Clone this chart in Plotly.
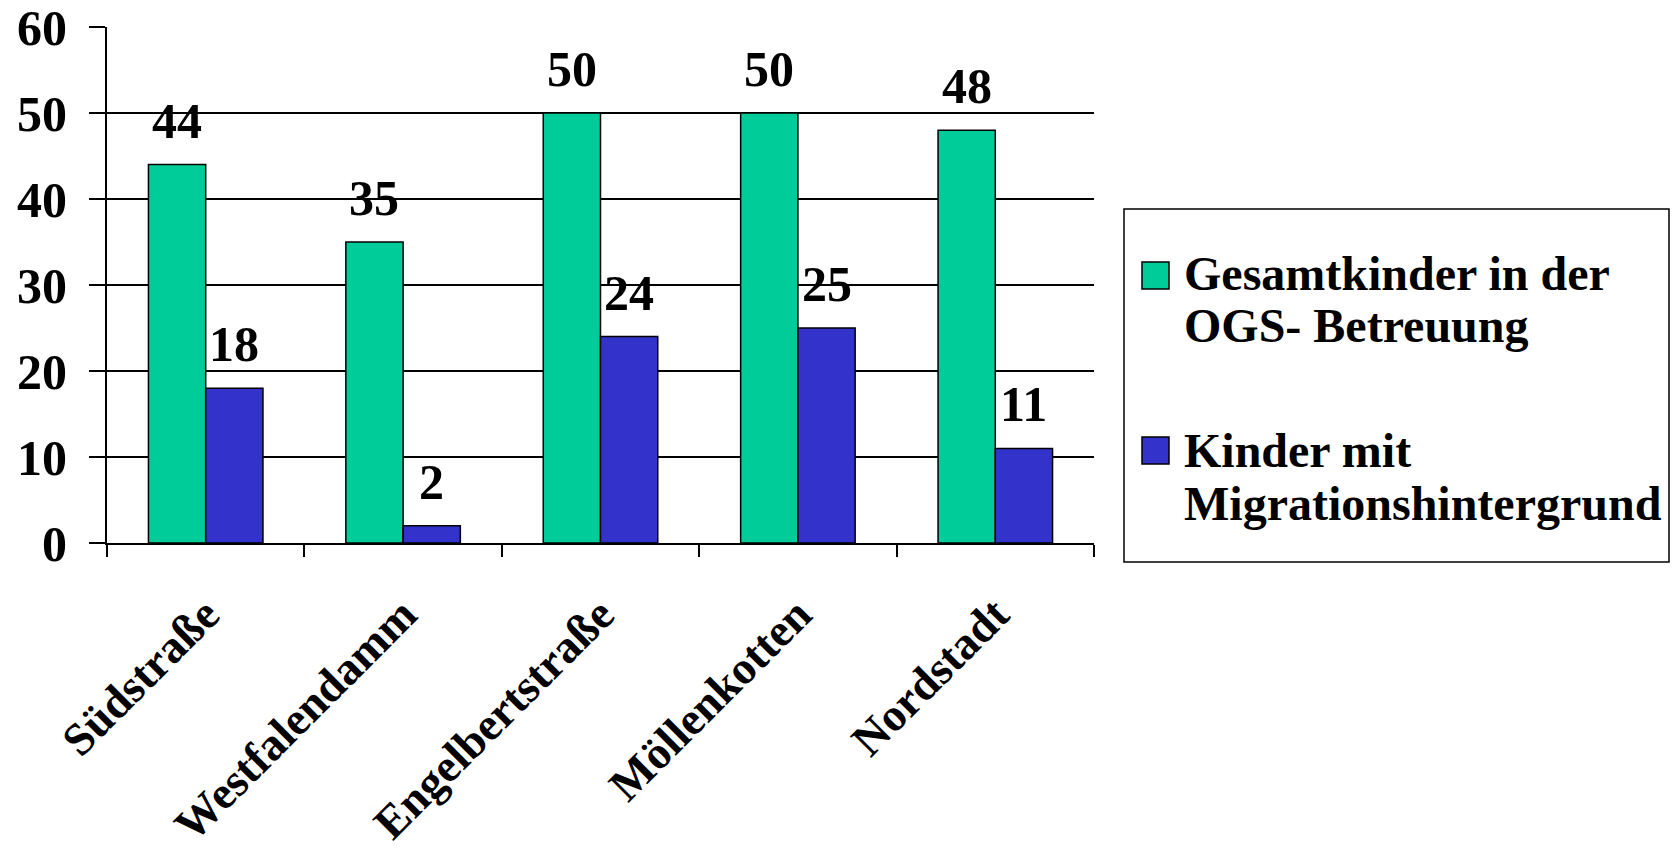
import plotly.graph_objects as go

categories = ["Südstraße", "Westfalendamm", "Engelbertstraße", "Möllenkotten", "Nordstadt"]
series_names = ["Gesamtkinder in der OGS- Betreuung", "Kinder mit Migrationshintergrund"]
legend_lines = [["Gesamtkinder in der", "OGS- Betreuung"], ["Kinder mit", "Migrationshintergrund"]]
gesamt = [44, 35, 50, 50, 48]
migration = [18, 2, 24, 25, 11]
colors = ["#00CC99", "#3333CC"]
y_ticks = [0, 10, 20, 30, 40, 50, 60]

W, H = 1672, 863
L, R, T, B = 107, 1672 - 1094, 27, 863 - 543
FONT = "Liberation Serif"
plot_w = W - L - R
plot_h = H - T - B
bargap = 0.42
cat_px = plot_w / len(categories)
bar_px = cat_px * (1 - bargap) / 2

fig = go.Figure()
for name, vals, col in zip(series_names, [gesamt, migration], colors):
    fig.add_trace(go.Bar(
        x=categories, y=vals, name=name,
        marker=dict(color=col, line=dict(color="black", width=1.5)),
        showlegend=False,
    ))

annotations = []
for si, vals in enumerate([gesamt, migration]):
    shift = (-0.5 if si == 0 else 0.5) * bar_px
    for c, v in zip(categories, vals):
        annotations.append(dict(
            x=c, y=v, xref="x", yref="y", text=str(v), showarrow=False,
            xshift=shift, yshift=44, yanchor="middle", xanchor="center",
            font=dict(family=FONT, size=50, color="black", weight="bold"),
        ))

def px_x(px):
    return (px - L) / plot_w

def px_y(py):
    return (H - B - py) / plot_h

shapes = [dict(type="rect", xref="paper", yref="paper",
               x0=px_x(1124), x1=px_x(1669), y0=px_y(562), y1=px_y(209),
               line=dict(color="black", width=1.5), fillcolor="white", layer="below")]
sq_tops = [262, 437]
line_ys = [[273, 325], [450, 503]]
for i in range(2):
    shapes.append(dict(type="rect", xref="paper", yref="paper",
                       x0=px_x(1142), x1=px_x(1169), y0=px_y(sq_tops[i] + 27), y1=px_y(sq_tops[i]),
                       line=dict(color="black", width=1.5), fillcolor=colors[i]))
    for txt, yy in zip(legend_lines[i], line_ys[i]):
        annotations.append(dict(
            x=px_x(1182), y=px_y(yy), xref="paper", yref="paper", text=txt,
            showarrow=False, xanchor="left", yanchor="middle",
            font=dict(family=FONT, size=48, color="black", weight="bold"),
        ))

fig.update_layout(
    width=W, height=H, barmode="group", bargap=bargap, bargroupgap=0,
    margin=dict(l=L, r=R, t=T, b=B, pad=0, autoexpand=False),
    plot_bgcolor="white", paper_bgcolor="white",
    annotations=annotations, shapes=shapes,
    font=dict(family=FONT, color="black"),
)
fig.update_xaxes(
    type="category", showline=True, linecolor="black", linewidth=2, automargin=False,
    ticks="outside", tickson="boundaries", ticklen=12, tickwidth=1.5, tickcolor="black",
    tickangle=-45, showgrid=False, ticklabelstandoff=24, ticklabeloverflow="allow",
    tickfont=dict(family=FONT, size=46, color="black", weight="bold"),
)
fig.update_yaxes(
    range=[0, 60], tickvals=y_ticks, showgrid=True, gridcolor="black", gridwidth=1.5,
    showline=True, linecolor="black", linewidth=2, zeroline=False, automargin=False,
    ticks="outside", ticklen=16, tickwidth=1.5, tickcolor="black", ticklabelstandoff=12,
    ticklabeloverflow="allow",
    tickfont=dict(family=FONT, size=50, color="black", weight="bold"),
)
fig.write_html("out.html")
